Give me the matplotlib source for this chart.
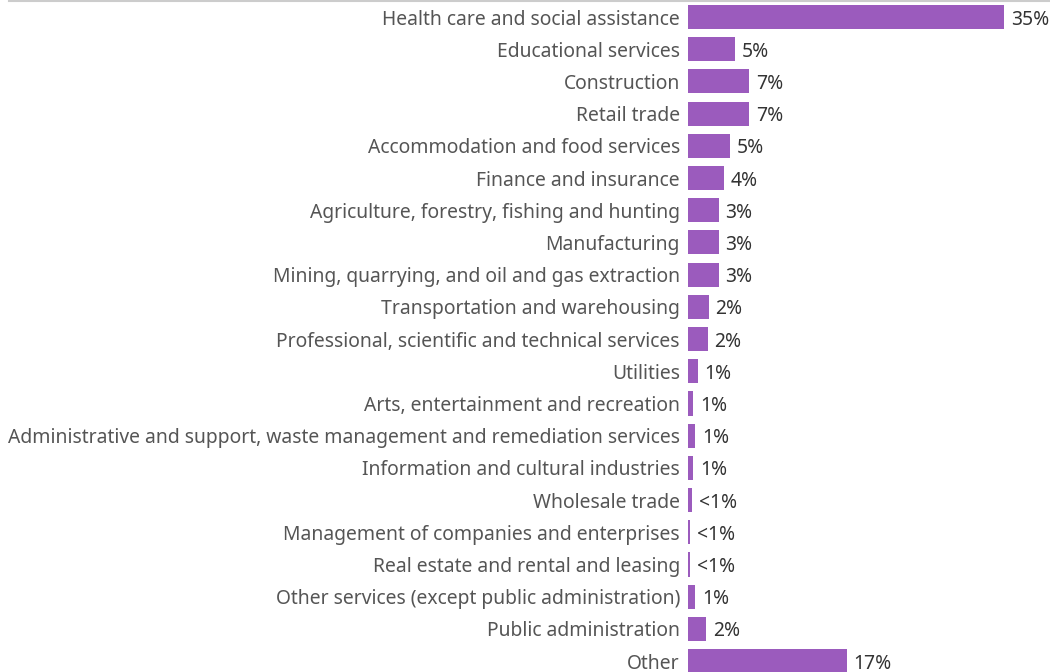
import matplotlib
matplotlib.use("Agg")
import matplotlib.pyplot as plt
from matplotlib.lines import Line2D

categories = [
    "Health care and social assistance",
    "Educational services",
    "Construction",
    "Retail trade",
    "Accommodation and food services",
    "Finance and insurance",
    "Agriculture, forestry, fishing and hunting",
    "Manufacturing",
    "Mining, quarrying, and oil and gas extraction",
    "Transportation and warehousing",
    "Professional, scientific and technical services",
    "Utilities",
    "Arts, entertainment and recreation",
    "Administrative and support, waste management and remediation services",
    "Information and cultural industries",
    "Wholesale trade",
    "Management of companies and enterprises",
    "Real estate and rental and leasing",
    "Other services (except public administration)",
    "Public administration",
    "Other",
]
values = [35.0, 5.2, 6.8, 6.8, 4.7, 4.0, 3.4, 3.4, 3.4, 2.3, 2.2, 1.1, 0.6, 0.8,
          0.6, 0.45, 0.25, 0.25, 0.8, 2.0, 17.6]
value_labels = ["35%", "5%", "7%", "7%", "5%", "4%", "3%", "3%", "3%", "2%", "2%",
                "1%", "1%", "1%", "1%", "<1%", "<1%", "<1%", "1%", "2%", "17%"]

plt.rcParams['font.family'] = ['Noto Sans', 'DejaVu Sans']

W, H = 1050, 672
fig = plt.figure(figsize=(W / 100, H / 100), dpi=100)
ax = fig.add_axes([688 / W, 0, 1 - 688 / W, 1])

pos = list(range(len(categories)))
ax.barh(pos, values, height=0.75, color="#9b5bbd")
ax.set_xlim(0, 362 / 9.03)
ax.set_ylim(20.34, -0.528)
ax.set_yticks(pos)
ax.set_yticklabels(categories, fontsize=13.9, color="#555555")
ax.tick_params(axis="y", length=0, pad=5.8)
ax.set_xticks([])
for s in ax.spines.values():
    s.set_visible(False)

for p, v, lab in zip(pos, values, value_labels):
    ax.annotate(lab, (v, p), xytext=(4.8, 0), textcoords="offset points",
                va="center_baseline", ha="left", fontsize=13.9, color="#333333")

fig.add_artist(Line2D([9 / W, 1], [1 - 1 / H, 1 - 1 / H], transform=fig.transFigure,
                      color="#cccccc", linewidth=1.5))

fig.savefig("out.png", dpi=100)
